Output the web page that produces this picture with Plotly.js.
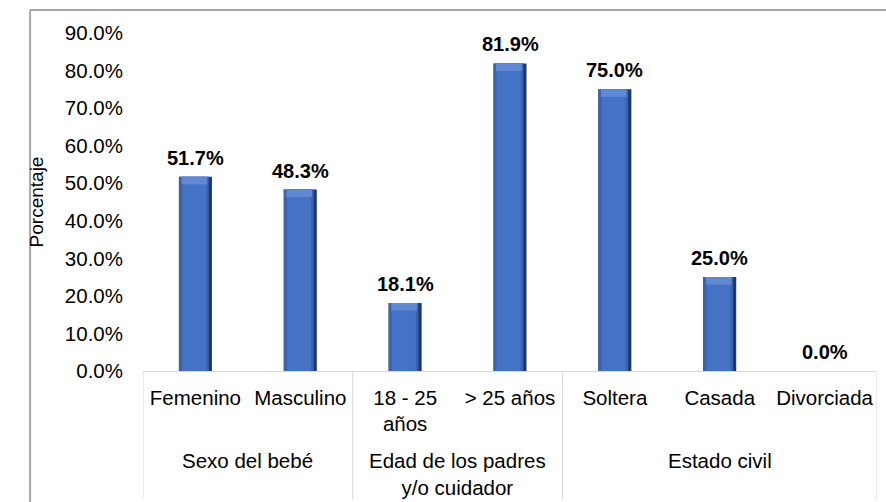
<!DOCTYPE html>
<html>
<head>
<meta charset="utf-8">
<script src="https://cdn.plot.ly/plotly-3.0.1.min.js"></script>
<style>
html,body{margin:0;padding:0;background:#fff;}
#chart{width:886px;height:502px;}
</style>
</head>
<body>
<div id="chart"></div>
<script>
const categories = ['Femenino','Masculino','18 - 25<br>años','> 25 años','Soltera','Casada','Divorciada'];
const values = [0.517, 0.483, 0.181, 0.819, 0.750, 0.250, 0.000];
const groupNames = ['Sexo del bebé','Edad de los padres<br>y/o cuidador','Estado civil'];
const groupSizes = [2, 2, 3];
const yTickVals = [0,0.1,0.2,0.3,0.4,0.5,0.6,0.7,0.8,0.9];

const FONT = 'Arial, "Liberation Sans", sans-serif';
const W = 0.315;
const CAP = 0.02;

const edge = {
  type:'bar', x:categories, y:values, width:W, offset:-W/2,
  marker:{color:'#1F3864'}, hoverinfo:'skip', showlegend:false
};
const leftBevel = {
  type:'bar', x:categories, y:values, width:W-0.03, offset:-W/2,
  marker:{color:'#3B62AD'}, hoverinfo:'skip', showlegend:false
};
const main = {
  type:'bar', x:categories, y:values, width:W-0.085, offset:-W/2+0.03,
  marker:{color:'#4472C4'}, hoverinfo:'skip', showlegend:false
};
const topCap = {
  type:'bar', x:categories, y:values.map(v => v > 0 ? CAP : 0), base:values.map(v => v - CAP),
  width:W-0.07, offset:-W/2+0.025,
  marker:{color:'#6189D3'}, hoverinfo:'skip', showlegend:false
};

const shapes = [];
const annotations = [];
// value labels
categories.forEach((c, i) => {
  annotations.push({
    xref:'x', yref:'y', x:i, y:values[i], yanchor:'bottom', xanchor:'center', yshift:6,
    text:(values[i]*100).toFixed(1) + '%', showarrow:false,
    font:{family:FONT, size:20, color:'#000', weight:'bold'}
  });
});
// group dividers and labels, derived from group sizes
let start = 0;
const divY0 = -0.38;
shapes.push({type:'line', xref:'x', yref:'paper', x0:-0.5, x1:-0.5, y0:0, y1:divY0, line:{color:'#D9D9D9', width:1}});
groupSizes.forEach((n, i) => {
  const end = start + n;
  shapes.push({type:'line', xref:'x', yref:'paper', x0:end-0.5, x1:end-0.5, y0:0, y1:divY0, line:{color:'#D9D9D9', width:1}});
  annotations.push({
    xref:'x', yref:'paper', x:(start + end - 1)/2, y:-0.226, yanchor:'top', xanchor:'center',
    text:groupNames[i], showarrow:false, font:{family:FONT, size:20.5, color:'#000'}
  });
  start = end;
});
// outer chart border (left and top only are visible)
shapes.push({type:'line', xref:'paper', yref:'paper', x0:-0.1538, x1:-0.1538, y0:-0.5, y1:1.068, line:{color:'#A6A6A6', width:2}});
shapes.push({type:'line', xref:'paper', yref:'paper', x0:-0.1538, x1:1.1, y0:1.068, y1:1.068, line:{color:'#A6A6A6', width:2}});

const layout = {
  width:886, height:502,
  margin:{l:143, r:9, t:33, b:131},
  paper_bgcolor:'#fff', plot_bgcolor:'#fff',
  font:{family:FONT, size:20, color:'#000'},
  barmode:'overlay',
  showlegend:false,
  xaxis:{
    type:'category', range:[-0.5, 6.5],
    showline:true, linecolor:'#D9D9D9', linewidth:1,
    showgrid:false, zeroline:false, ticks:'',
    ticklabelstandoff:8,
    tickfont:{family:FONT, size:20.5, color:'#000'}
  },
  yaxis:{
    range:[0,0.9], tickvals:yTickVals, tickformat:'.1%',
    showgrid:false, zeroline:false, showline:false, ticks:'',
    ticklabelstandoff:19,
    tickfont:{family:FONT, size:20.5, color:'#000'},
    title:{text:'Porcentaje', font:{family:FONT, size:19, color:'#000'}, standoff:16}
  },
  shapes:shapes,
  annotations:annotations
};

Plotly.newPlot('chart', [edge, leftBevel, main, topCap], layout, {displayModeBar:false, staticPlot:true});
</script>
</body>
</html>
